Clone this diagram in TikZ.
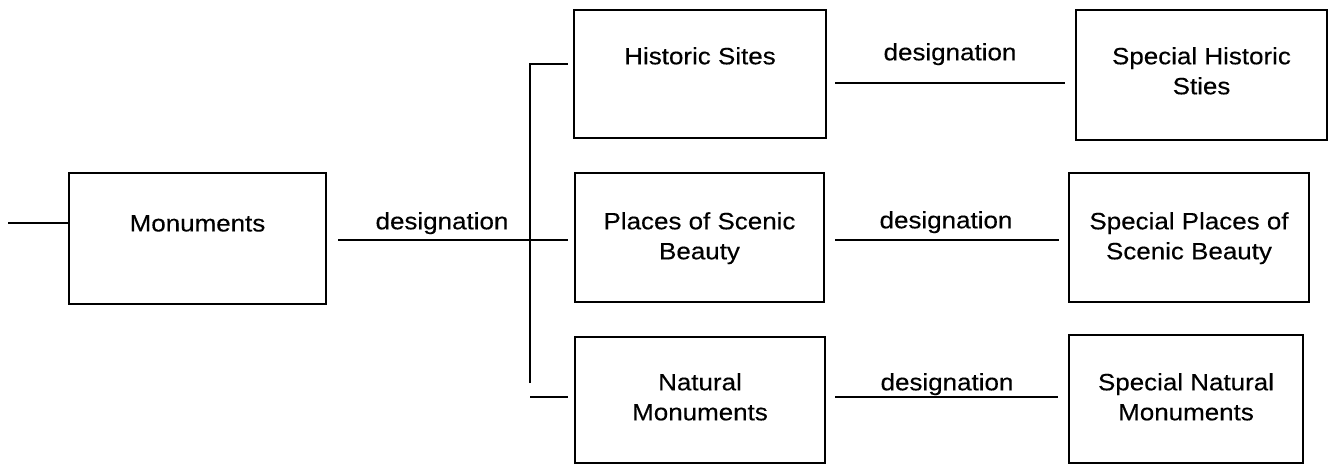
\documentclass[tikz,border=0pt]{standalone}
\usepackage{fontspec}
\setmainfont{Liberation Sans}[FakeStretch=1.1,FakeBold=0.3]
\begin{document}
\begin{tikzpicture}[x=1pt,y=-1pt,
  box/.style={draw, line width=2.2pt, inner sep=0pt, outer sep=0pt},
  txt/.style={inner sep=0pt, anchor=north, align=center,
    font=\fontsize{23.6}{30}\selectfont},
  conn/.style={line width=2.6pt}]
\useasboundingbox (0,0) rectangle (1336,465);
% boxes
\node[box, minimum width=257pt, minimum height=131pt] (mon) at (197.5,238.5) {};
\node[box, minimum width=252pt, minimum height=128pt] (hist) at (700,74) {};
\node[box, minimum width=249pt, minimum height=129pt] (places) at (699.5,237.5) {};
\node[box, minimum width=250pt, minimum height=126pt] (nat) at (700,400) {};
\node[box, minimum width=251pt, minimum height=130pt] (shist) at (1201.5,75) {};
\node[box, minimum width=240pt, minimum height=129pt] (splaces) at (1189,237.5) {};
\node[box, minimum width=234pt, minimum height=128pt] (snat) at (1186,399) {};
% box texts
\node[txt] (tmon) at (mon.center |- 0,215) {Monuments};
\node[txt] (thist) at (hist.center |- 0,47) {Historic Sites};
\node[txt] (tplaces) at (places.center |- 0,212) {Places of Scenic\\Beauty};
\node[txt] (tnat) at (nat.center |- 0,373) {Natural\\Monuments};
\node[txt] (tshist) at (shist.center |- 0,47) {Special Historic\\Sties};
\node[txt] (tsplaces) at (splaces.center |- 0,212) {Special Places of\\Scenic Beauty};
\node[txt] (tsnat) at (snat.center |- 0,373) {Special Natural\\Monuments};
% coordinates
\coordinate (stub) at (8,223);
\coordinate (j) at (530,240);
\coordinate (vtop) at (530,64);
\coordinate (vbot) at (530,383);
\coordinate (bstub) at (530,397);
% connectors
\draw[conn] (stub) -- (mon.west |- stub);
\draw[conn] ([xshift=12pt]mon.east |- j) -- ([xshift=-7pt]places.west |- j);
\draw[conn] (vbot) -- (vtop) -- ([xshift=-6pt]hist.west |- vtop);
\draw[conn] (bstub) -- ([xshift=-7pt]nat.west |- bstub);
\draw[conn] ([xshift=9pt]hist.east |- 0,83) -- ([xshift=-11pt]shist.west |- 0,83);
\draw[conn] ([xshift=11pt]places.east |- 0,240) -- ([xshift=-10pt]splaces.west |- 0,240);
\draw[conn] ([xshift=10pt]nat.east |- 0,397) -- ([xshift=-11pt]snat.west |- 0,397);
% connector labels
\node[txt] (d0) at (442,212) {designation};
\node[txt] (d1) at (950,43) {designation};
\node[txt] (d2) at (946,211) {designation};
\node[txt] (d3) at (947,373) {designation};
\end{tikzpicture}
\end{document}
